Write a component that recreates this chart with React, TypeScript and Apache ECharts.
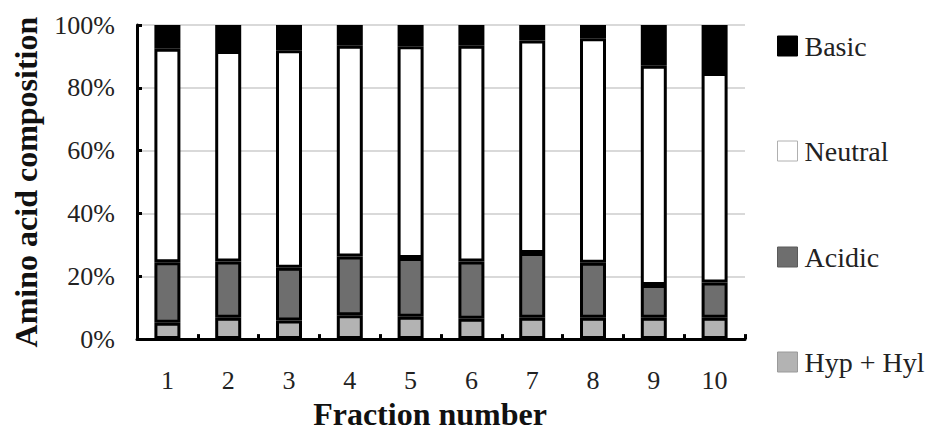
import React, { useEffect, useRef } from "react";
import * as echarts from "echarts";

const categories = ["1", "2", "3", "4", "5", "6", "7", "8", "9", "10"];
const hypHyl = [5.2, 6.8, 5.9, 7.6, 7.1, 6.5, 6.8, 6.8, 6.8, 6.8];
const acidic = [19.3, 17.9, 16.8, 18.7, 18.7, 18.2, 20.6, 17.5, 10.4, 11.2];
const neutral = [67.9, 67.0, 69.3, 67.1, 67.4, 68.7, 67.7, 71.5, 69.8, 66.7];
const basic = [7.6, 8.3, 8.0, 6.6, 6.8, 6.6, 4.9, 4.2, 13.0, 15.3];
const yTicks = [0, 20, 40, 60, 80, 100];

const FONT = "'Liberation Serif', 'Times New Roman', serif";

const seriesDefs = [
  { name: "Hyp + Hyl", data: hypHyl, color: "#b3b3b3", legendBorder: "#9a9a9a" },
  { name: "Acidic", data: acidic, color: "#6e6e6e", legendBorder: "#5a5a5a" },
  { name: "Neutral", data: neutral, color: "#ffffff", legendBorder: "#b0b0b0" },
  { name: "Basic", data: basic, color: "#000000", legendBorder: "#000000" },
];

const legendOrder = ["Basic", "Neutral", "Acidic", "Hyp + Hyl"];
const legendCenters = [46, 151, 257, 362];

export default function App() {
  const ref = useRef<HTMLDivElement>(null);
  useEffect(() => {
    if (!ref.current) return;
    const chart = echarts.init(ref.current, null, { renderer: "svg" });
    const legends = legendOrder.map((name, i) => {
      const def = seriesDefs.find((s) => s.name === name)!;
      return {
        orient: "vertical",
        left: 777,
        top: legendCenters[i] - 14,
        padding: 0,
        data: [name],
        itemWidth: 20,
        itemHeight: 20,
        itemGap: 0,
        selectedMode: false,
        icon: "rect",
        itemStyle: { color: def.color, borderColor: def.legendBorder, borderWidth: 1 },
        textStyle: { fontFamily: FONT, fontSize: 28, color: "#222", lineHeight: 28, padding: [0, 0, 0, 2] },
      };
    });
    chart.setOption({
      animation: false,
      backgroundColor: "#ffffff",
      grid: { left: 137, right: 185, top: 25, bottom: 90 },
      legend: legends,
      xAxis: {
        type: "category",
        data: categories,
        name: "Fraction number",
        nameLocation: "middle",
        nameGap: 52,
        nameTextStyle: { fontFamily: FONT, fontSize: 32, fontWeight: "bold", color: "#111", padding: [0, 22, 0, 0] },
        axisLine: { lineStyle: { color: "#000", width: 3 } },
        axisTick: { show: true, inside: true, length: 5, lineStyle: { color: "#000", width: 3 } },
        axisLabel: { fontFamily: FONT, fontSize: 26, color: "#222", margin: 28 },
      },
      yAxis: {
        type: "value",
        min: 0,
        max: 100,
        interval: 20,
        name: "Amino acid composition",
        nameLocation: "middle",
        nameGap: 95,
        nameTextStyle: { fontFamily: FONT, fontSize: 32, fontWeight: "bold", color: "#111" },
        axisLine: { show: true, lineStyle: { color: "#000", width: 3 } },
        axisTick: { show: true, inside: true, length: 5, lineStyle: { color: "#000", width: 3 } },
        axisLabel: {
          fontFamily: FONT,
          fontSize: 26,
          color: "#222",
          margin: 22,
          formatter: (v: number) => (yTicks.includes(v) ? v + "%" : ""),
        },
        splitLine: { show: true, lineStyle: { color: "#cccccc", width: 1.5 } },
      },
      series: seriesDefs.map((s) => ({
        name: s.name,
        type: "bar",
        stack: "total",
        barWidth: 26,
        data: s.data,
        itemStyle: { color: s.color, borderColor: "#000", borderWidth: 3 },
      })),
    });
    return () => chart.dispose();
  }, []);
  return (
    <div
      ref={ref}
      style={{ position: "absolute", left: 0, top: 0, width: 930, height: 435 }}
    />
  );
}
